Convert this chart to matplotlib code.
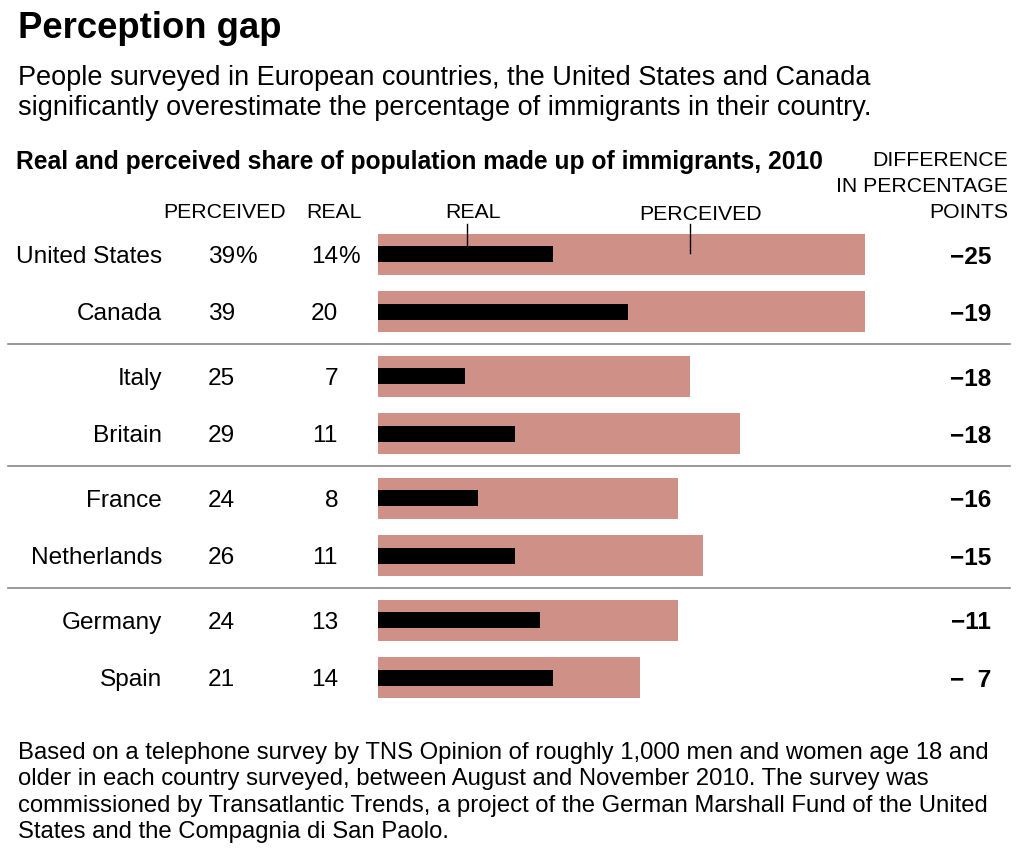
import matplotlib.pyplot as plt

plt.rcParams['font.family'] = ['Liberation Sans', 'DejaVu Sans']

countries = ["United States", "Canada", "Italy", "Britain",
             "France", "Netherlands", "Germany", "Spain"]
perceived = [39, 39, 25, 29, 24, 26, 24, 21]
real = [14, 20, 7, 11, 8, 11, 13, 14]
groups = [0, 0, 1, 1, 2, 2, 3, 3]

W, H = 1024, 853
fig = plt.figure(figsize=(W / 100, H / 100), dpi=100)

# bar axes: x in percent, y in pixels from top
x0, px_per_pt = 378, 12.49
ax = fig.add_axes([x0 / W, 0, 40 * px_per_pt / W, 1])
ax.set_xlim(0, 40)
ax.set_ylim(H, 0)
ax.axis('off')

rows = [255 + i * 57.5 + g * 7 for i, g in enumerate(groups)]

ax.barh(rows, perceived, height=41, color='#cf9087', left=0)
ax.barh(rows, real, height=16, color='black', left=0)

# little pointer ticks under the header labels
ax.plot([7.1, 7.1], [225, 246], color='black', lw=1)
ax.plot([25, 25], [225, 254], color='black', lw=1)


def t(x, y, s, **kw):
    fig.text(x / W, 1 - y / H, s, **kw)


t(18, 28, "Perception gap", fontsize=26.3, fontweight='bold', va='center')
t(18, 78, "People surveyed in European countries, the United States and Canada",
  fontsize=19.5, va='center')
t(18, 108, "significantly overestimate the percentage of immigrants in their country.",
  fontsize=19.5, va='center')
t(16, 162, "Real and perceived share of population made up of immigrants, 2010",
  fontsize=17.7, fontweight='bold', va='center')

for y, s in zip([161, 187, 213], ["DIFFERENCE", "IN PERCENTAGE", "POINTS"]):
    t(1008, y, s, fontsize=15.3, ha='right', va='center')

t(225, 213, "PERCEIVED", fontsize=15.3, ha='center', va='center')
t(334, 213, "REAL", fontsize=15.3, ha='center', va='center')
t(473, 213, "REAL", fontsize=15.3, ha='center', va='center')
t(701, 215, "PERCEIVED", fontsize=15.3, ha='center', va='center')

for i, (c, p, r) in enumerate(zip(countries, perceived, real)):
    y = rows[i] + 2
    t(162, y, c, fontsize=17.6, ha='right', va='center')
    t(235, y, str(p), fontsize=17.6, ha='right', va='center')
    t(338, y, str(r), fontsize=17.6, ha='right', va='center')
    if i == 0:
        t(235, y, "%", fontsize=17.6, ha='left', va='center')
        t(338, y, "%", fontsize=17.6, ha='left', va='center')
    d = p - r
    label = "\u2212" + (str(d) if d >= 10 else "  " + str(d))
    t(991, y, label, fontsize=17.6, fontweight='bold', ha='right', va='center')

# separators between groups
for k in range(1, 4):
    i = groups.index(k)
    y = (rows[i - 1] + rows[i]) / 2
    fig.add_artist(plt.Line2D([8 / W, 1010 / W], [1 - y / H, 1 - y / H],
                              color='#888888', lw=1.2))

footer = [
    "Based on a telephone survey by TNS Opinion of roughly 1,000 men and women age 18 and",
    "older in each country surveyed, between August and November 2010. The survey was",
    "commissioned by Transatlantic Trends, a project of the German Marshall Fund of the United",
    "States and the Compagnia di San Paolo.",
]
for k, line in enumerate(footer):
    t(18, 753 + k * 26.5, line, fontsize=17.2, va='center')

fig.savefig("out.png", dpi=100)
